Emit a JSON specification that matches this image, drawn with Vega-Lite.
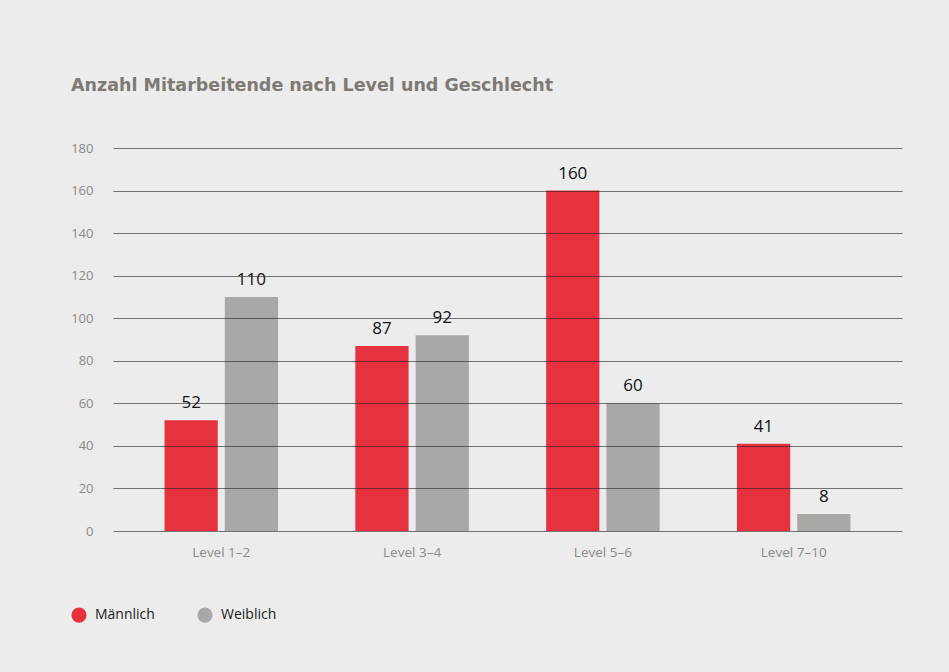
{
  "$schema": "https://vega.github.io/schema/vega-lite/v6.json",
  "width": 789,
  "height": 383,
  "autosize": {"type": "none"},
  "padding": {"left": 113, "top": 148, "right": 47, "bottom": 141},
  "background": "#ececec",
  "title": {
    "text": "Anzahl Mitarbeitende nach Level und Geschlecht",
    "anchor": "start",
    "frame": "group",
    "dx": -42,
    "offset": 48,
    "font": "DejaVu Sans",
    "fontSize": 17.5,
    "fontWeight": "bold",
    "color": "#7d7975"
  },
  "config": {
    "view": {"stroke": null},
    "font": "Open Sans"
  },
  "data": {
    "values": [
      {"level": "Level 1–2", "gender": "Männlich", "value": 52},
      {"level": "Level 1–2", "gender": "Weiblich", "value": 110},
      {"level": "Level 3–4", "gender": "Männlich", "value": 87},
      {"level": "Level 3–4", "gender": "Weiblich", "value": 92},
      {"level": "Level 5–6", "gender": "Männlich", "value": 160},
      {"level": "Level 5–6", "gender": "Weiblich", "value": 60},
      {"level": "Level 7–10", "gender": "Männlich", "value": 41},
      {"level": "Level 7–10", "gender": "Weiblich", "value": 8}
    ]
  },
  "encoding": {
    "x": {
      "field": "level",
      "type": "nominal",
      "sort": null,
      "scale": {"paddingInner": 0.405, "paddingOuter": 0.27},
      "axis": {
        "title": null,
        "labelAngle": 0,
        "ticks": false,
        "domain": false,
        "labelPadding": 14,
        "labelFontSize": 13.5,
        "labelColor": "#8a8a8a"
      }
    },
    "xOffset": {
      "field": "gender",
      "type": "nominal",
      "scale": {"paddingInner": 0.117, "paddingOuter": 0}
    },
    "y": {
      "field": "value",
      "type": "quantitative",
      "scale": {"domain": [0, 180], "nice": false},
      "axis": {
        "title": null,
        "values": [0, 20, 40, 60, 80, 100, 120, 140, 160, 180],
        "ticks": false,
        "domain": false,
        "labelPadding": 20,
        "labelFontSize": 13,
        "labelColor": "#8a8a8a",
        "gridColor": "#222222",
        "gridOpacity": 0.6,
        "gridWidth": 1,
        "zindex": 1
      }
    }
  },
  "layer": [
    {
      "mark": {"type": "bar"},
      "encoding": {
        "color": {
          "field": "gender",
          "type": "nominal",
          "scale": {"domain": ["Männlich", "Weiblich"], "range": ["#e6323f", "#a9a8a6"]},
          "legend": {
            "title": null,
            "orient": "none",
            "direction": "horizontal",
            "legendX": -42,
            "legendY": 459,
            "symbolType": "circle",
            "symbolSize": 230,
            "symbolStrokeWidth": 0,
            "symbolOpacity": 1,
            "labelFontSize": 14,
            "labelColor": "#1a1a1a",
            "labelOffset": 8,
            "columnPadding": 42
          }
        }
      }
    },
    {
      "mark": {"type": "text", "baseline": "alphabetic", "dy": -12, "fontSize": 17, "color": "#111111"},
      "encoding": {
        "text": {"field": "value", "type": "quantitative"}
      }
    }
  ]
}
